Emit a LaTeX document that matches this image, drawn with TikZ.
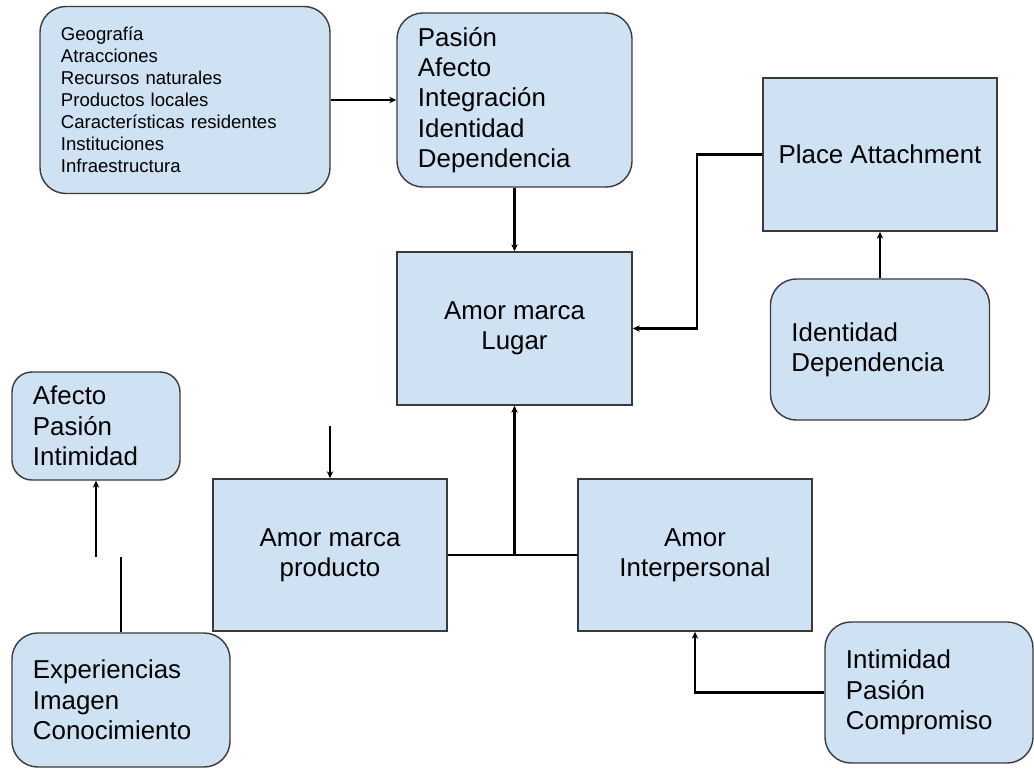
\documentclass[tikz,border=0pt]{standalone}
\usepackage{fontspec}
\setmainfont{Liberation Sans}
\usetikzlibrary{arrows.meta}
\definecolor{boxblue}{HTML}{CFE2F3}
\definecolor{boxline}{HTML}{3A3A3A}
\newcommand{\bigtext}{\fontsize{18.4}{21.6}\selectfont}
\newcommand{\smalltext}{\fontsize{13.2}{15.6}\selectfont}

\begin{document}
\begin{tikzpicture}[x=0.025cm,y=-0.025cm]
		\tikzstyle{softbox}=[rounded corners=0.65cm,draw=boxline,line width=1pt,fill=boxblue,align=left,inner xsep=0.525cm,font=\bigtext]
		\tikzstyle{hardbox}=[rectangle,draw=boxline,line width=1pt,fill=boxblue,align=center,minimum width=5.85cm,font=\bigtext]
		\tikzstyle{edge}=[draw, line width=1.7pt, -{Stealth[length=5pt,width=4.5pt]}]
		\tikzstyle{link}=[draw, line width=1.7pt]
		\useasboundingbox (0,0) rectangle (1034,771);
		\begin{scope}
			\node [softbox,font=\smalltext,text width=6.2cm,minimum height=4.675cm] (attrs) at (185,100) {Geografía\\Atracciones\\Recursos naturales\\Productos locales\\Características residentes\\Instituciones\\Infraestructura};
			\node [softbox,text width=4.825cm,minimum height=4.35cm] (dims) at (514.5,100) {Pasión\\Afecto\\Integración\\Identidad\\Dependencia};
			\node [hardbox,minimum height=3.825cm] (place) at (880,154.5) {Place Attachment};
			\node [hardbox,minimum width=5.875cm,minimum height=3.825cm] (lugar) at (514.5,328.5) {Amor marca\\Lugar};
			\node [softbox,text width=4.425cm,minimum height=3.525cm] (iddep) at (880,349.5) {Identidad\\Dependencia};
			\node [softbox,rounded corners=0.5cm,text width=3.15cm,minimum height=2.7cm] (afecto) at (96,426) {Afecto\\Pasión\\Intimidad};
			\node [hardbox,minimum height=3.8cm] (producto) at (330,555) {Amor marca\\producto};
			\node [hardbox,minimum height=3.8cm] (interp) at (695,555) {Amor\\Interpersonal};
			\node [softbox,text width=4.4cm,minimum height=3.35cm] (exper) at (121,700) {Experiencias\\Imagen\\Conocimiento};
			\node [softbox,text width=4.15cm,minimum height=3.525cm] (ipc) at (929,692.5) {Intimidad\\Pasión\\Compromiso};
			\coordinate (bend) at (697,154.5);
			\coordinate (afectoin) at (96,557);
			\coordinate (experout) at (121,557);
			\coordinate (prodin) at (330,426);
			\coordinate (join) at (514.5,555);
			\path[edge] (attrs.east) -- (dims.west);
			\path[edge] (dims.south) -- (lugar.north);
			\path[edge] (place.west) -- (bend) |- (lugar.east);
			\path[edge] (iddep.north) -- (place.south);
			\path[edge] (afectoin) -- (afecto.south);
			\path[link] (exper.north) -- (experout);
			\path[edge] (prodin) -- (producto.north);
			\path[link] (producto.east) -- (interp.west);
			\path[edge] (join) -- (lugar.south);
			\path[edge] (ipc.west) -| (interp.south);
		\end{scope}
\end{tikzpicture}
\end{document}
